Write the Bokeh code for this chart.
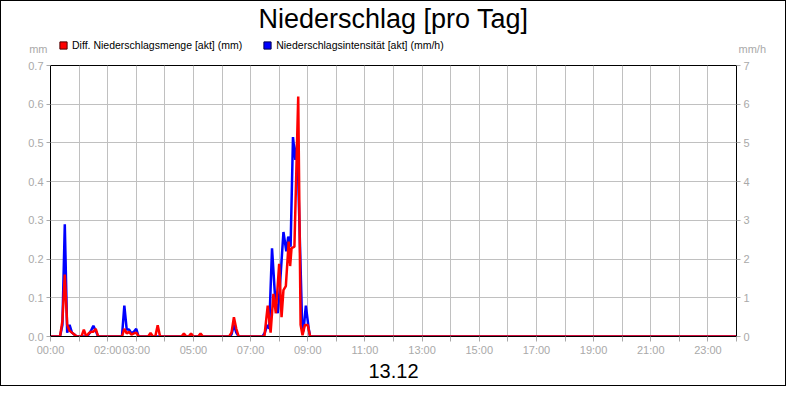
from bokeh.plotting import figure
from bokeh.layouts import column
from bokeh.models import (Range1d, LinearAxis, FixedTicker, Label, Legend, LegendItem,
                          ColumnDataSource)
from bokeh.embed import file_html
from bokeh.resources import INLINE

# ---------------- data ----------------
title_text = "Niederschlag [pro Tag]"
date_text = "13.12"
red_name = "Diff. Niederschlagsmenge [akt] (mm)"
blue_name = "Niederschlagsintensität [akt] (mm/h)"
left_unit = "mm"
right_unit = "mm/h"

# Diff. Niederschlagsmenge (mm)
red_times = ["00:00", "00:20", "00:25", "00:30", "00:35", "00:40", "00:45", "00:50", "00:55",
             "01:05", "01:10", "01:15", "01:20", "01:25", "01:30", "01:35", "01:40",
             "02:30", "02:35", "02:40", "02:45", "02:50", "02:55", "03:00", "03:05",
             "03:25", "03:30", "03:35", "03:40", "03:45", "03:50",
             "04:35", "04:40", "04:45", "04:50", "04:55", "05:00", "05:10", "05:15", "05:20",
             "06:15", "06:20", "06:25", "06:30", "06:35",
             "07:29", "07:36", "07:42", "07:48", "07:53", "08:00", "08:05", "08:09", "08:14",
             "08:20", "08:23", "08:26", "08:32", "08:40", "08:45", "08:49", "08:54", "09:00",
             "09:05", "24:00"]
red_vals = [0, 0, 0.04, 0.16, 0.03, 0.015, 0.01, 0.005, 0,
            0, 0.018, 0, 0.008, 0.012, 0.012, 0.02, 0,
            0, 0.02, 0.008, 0.012, 0.005, 0.008, 0.01, 0,
            0, 0.009, 0, 0, 0.029, 0,
            0, 0.008, 0, 0, 0.008, 0, 0, 0.008, 0,
            0, 0.01, 0.05, 0.02, 0,
            0, 0.08, 0.01, 0.11, 0.06, 0.188, 0.05, 0.12, 0.13,
            0.245, 0.182, 0.228, 0.232, 0.62, 0.03, 0.003, 0.03, 0.03,
            0, 0]

# Niederschlagsintensität (mm/h)
blue_times = ["00:00", "00:20", "00:25", "00:30", "00:35", "00:40", "00:45", "00:50", "00:55",
              "01:15", "01:20", "01:25", "01:30", "01:35", "01:40",
              "02:30", "02:35", "02:40", "02:45", "02:50", "02:55", "03:00", "03:05",
              "06:15", "06:20", "06:25", "06:30", "06:35",
              "07:25", "07:30", "07:35", "07:39", "07:45", "07:52", "07:57", "08:01", "08:09",
              "08:15", "08:19", "08:24", "08:29", "08:34", "08:38", "08:48", "08:51", "08:56",
              "09:02", "09:05", "24:00"]
blue_vals = [0, 0, 0.3, 2.9, 0.1, 0.3, 0.1, 0.05, 0,
             0, 0.05, 0.15, 0.28, 0.15, 0,
             0, 0.8, 0.18, 0.18, 0.08, 0.12, 0.2, 0,
             0, 0.05, 0.3, 0.1, 0,
             0, 0.1, 0.3, 0.2, 2.28, 0.9, 0.6, 1.2, 2.7,
             2.2, 2.58, 2.32, 5.15, 4.56, 5.0, 0.39, 0.13, 0.8,
             0.2, 0, 0]

x_tick_hours = list(range(0, 25))
x_tick_labels = ["00:00", "", "02:00", "03:00", "", "05:00", "", "07:00", "", "09:00", "",
                 "11:00", "", "13:00", "", "15:00", "", "17:00", "", "19:00", "", "21:00", "",
                 "23:00", ""]
left_ticks = [0, 0.1, 0.2, 0.3, 0.4, 0.5, 0.6, 0.7]
left_labels = ["0.0", "0.1", "0.2", "0.3", "0.4", "0.5", "0.6", "0.7"]
right_ticks = [0, 1, 2, 3, 4, 5, 6, 7]
right_labels = ["0", "1", "2", "3", "4", "5", "6", "7"]


def to_hours(s):
    h, m = s.split(":")
    return int(h) + int(m) / 60.0


FONT = "Liberation Sans"
GREY = "#a9a9a9"
GRID = "#c0c0c0"
W = 784
BL, BR = 49, 49            # side borders (same for every strip so frames line up)
A_H, B_H, C_H = 37, 20, 27  # title strip, legend strip, date strip
MAIN_TOP, MAIN_BOT = 7, 22
FRAME_H = 271
FRAME_W = W - BL - BR
TEXT_SHIFT = 8.5           # baseline correction for the strip labels


def strip(height, y_top):
    """A text strip; x and y are in pixels (y from the top of the whole picture)."""
    f = figure(output_backend="svg", toolbar_location=None, width=W, height=height,
               x_range=Range1d(BL, W - BR), y_range=Range1d(y_top + height, y_top),
               x_axis_location=None, y_axis_location=None,
               min_border_left=BL, min_border_right=BR, min_border_top=0, min_border_bottom=0)
    f.title.visible = False
    f.grid.visible = False
    f.outline_line_color = None
    f.background_fill_color = "white"
    f.border_fill_color = "white"
    return f


blue_src = ColumnDataSource(dict(x=[to_hours(t) for t in blue_times], y=blue_vals))
red_src = ColumnDataSource(dict(x=[to_hours(t) for t in red_times], y=red_vals))

# ---------- strip A: title ----------
sa = strip(A_H, 0)
sa.add_layout(Label(x=392, y=25.5 - TEXT_SHIFT, text=title_text, text_align="center",
                    text_baseline="alphabetic", text_font=FONT, text_font_size="27px",
                    text_color="black"))

# ---------- strip B: legend + unit labels ----------
sb = strip(B_H, A_H)
# legend swatches reuse the series sources; their points fall outside this strip's range
sq_red = sb.scatter("x", "y", source=red_src, marker="square", size=1,
                    fill_color="#ff0000", line_color="#500000", line_width=1)
sq_blue = sb.scatter("x", "y", source=blue_src, marker="square", size=1,
                     fill_color="#0000ff", line_color="#000050", line_width=1)
legend = Legend(items=[LegendItem(label=red_name, renderers=[sq_red]),
                       LegendItem(label=blue_name, renderers=[sq_blue])],
                orientation="horizontal", location=(4, 3),
                glyph_width=18, glyph_height=20, label_standoff=0, spacing=16,
                padding=0, margin=0, border_line_color=None, background_fill_alpha=0,
                label_text_font=FONT, label_text_font_size="10.5px", label_text_color="black")
sb.add_layout(legend, "center")
for side, unit, standoff in (("left", left_unit, 3), ("right", right_unit, 2)):
    ax = LinearAxis(ticker=FixedTicker(ticks=[]), axis_label=unit,
                    axis_label_orientation="horizontal", axis_label_standoff=standoff,
                    axis_label_text_font=FONT, axis_label_text_font_size="11px",
                    axis_label_text_font_style="normal", axis_label_text_color=GREY,
                    axis_line_color=None, major_tick_line_color=None,
                    minor_tick_line_color=None, major_label_text_font_size="0px",
                    major_tick_out=0, major_label_standoff=0)
    sb.add_layout(ax, side)

# ---------- main chart ----------
p = figure(output_backend="svg", toolbar_location=None,
           frame_width=FRAME_W, frame_height=FRAME_H,
           min_border_left=BL, min_border_right=BR,
           min_border_top=MAIN_TOP, min_border_bottom=MAIN_BOT,
           x_range=Range1d(0, 24), y_range=Range1d(0, 0.7),
           x_axis_location=None, y_axis_location=None)
p.title.visible = False
p.extra_y_ranges = {"rate": Range1d(0, 7)}
p.background_fill_color = "white"
p.border_fill_color = "white"
p.outline_line_color = "black"
p.outline_line_width = 1

xaxis = LinearAxis(ticker=FixedTicker(ticks=x_tick_hours),
                   major_label_overrides={h: l for h, l in zip(x_tick_hours, x_tick_labels)})
yleft = LinearAxis(ticker=FixedTicker(ticks=left_ticks),
                   major_label_overrides={t: l for t, l in zip(left_ticks, left_labels)})
yright = LinearAxis(y_range_name="rate", ticker=FixedTicker(ticks=right_ticks),
                    major_label_overrides={t: l for t, l in zip(right_ticks, right_labels)})
for ax in (xaxis, yleft, yright):
    ax.axis_line_color = "black"
    ax.major_tick_line_color = GREY
    ax.major_tick_in = 0
    ax.minor_tick_line_color = None
    ax.major_label_text_color = GREY
    ax.major_label_text_font = FONT
    ax.major_label_text_font_size = "11px"
xaxis.major_tick_out = 5
xaxis.major_label_standoff = 2
yleft.major_tick_out = 4
yleft.major_label_standoff = 3
yright.major_tick_out = 4
yright.major_label_standoff = 3
p.add_layout(xaxis, "below")
p.add_layout(yleft, "left")
p.add_layout(yright, "right")

p.xgrid.ticker = FixedTicker(ticks=x_tick_hours)
p.ygrid.ticker = FixedTicker(ticks=left_ticks)
for g in (p.xgrid, p.ygrid):
    g.grid_line_color = GRID
    g.grid_line_width = 1

p.line("x", "y", source=blue_src, y_range_name="rate", line_color="#0000ff", line_width=2.5)
p.line("x", "y", source=red_src, line_color="#ff0000", line_width=2.5)

# ---------- strip C: date ----------
main_h = MAIN_TOP + FRAME_H + MAIN_BOT
sc = strip(C_H, A_H + B_H + main_h)
sc.add_layout(Label(x=392, y=378 - TEXT_SHIFT, text=date_text, text_align="center",
                    text_baseline="alphabetic", text_font=FONT, text_font_size="20px",
                    text_color="black"))

layout = column(sa, sb, p, sc, spacing=0)
layout.styles = {"border": "1px solid black", "box-sizing": "border-box"}

open("out.html", "w").write(file_html(layout, INLINE))
